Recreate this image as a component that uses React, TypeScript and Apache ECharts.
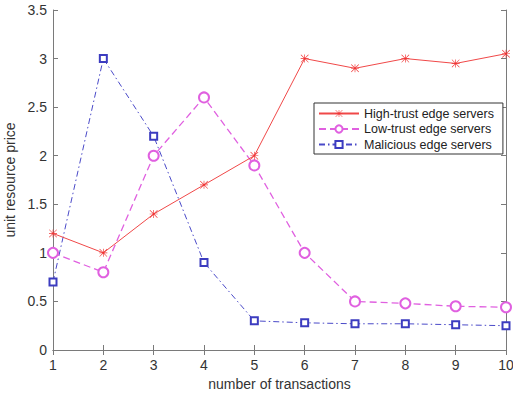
import React, { useEffect, useRef } from "react";
import * as echarts from "echarts";

const transactions = [1, 2, 3, 4, 5, 6, 7, 8, 9, 10];
const highTrust = [1.2, 1.0, 1.4, 1.7, 2.0, 3.0, 2.9, 3.0, 2.95, 3.05];
const lowTrust = [1.0, 0.8, 2.0, 2.6, 1.9, 1.0, 0.5, 0.48, 0.45, 0.44];
const malicious = [0.7, 3.0, 2.2, 0.9, 0.3, 0.28, 0.27, 0.27, 0.26, 0.25];
const seriesNames = ["High-trust edge servers", "Low-trust edge servers", "Malicious edge servers"];

const asterisk =
  "path://M0 9.2L20 9.2L20 10.8L0 10.8Z M9.2 0L10.8 0L10.8 20L9.2 20Z M1.1 0L20 18.9L18.9 20L0 1.1Z M18.9 0L20 1.1L1.1 20L0 18.9Z";

const FONT = "Liberation Sans, Arial, sans-serif";

export default function App() {
  const ref = useRef<HTMLDivElement>(null);
  useEffect(() => {
    if (!ref.current) return;
    const chart = echarts.init(ref.current, undefined, { renderer: "svg" });
    const pair = (arr: number[]) => transactions.map((x, i) => [x, arr[i]]);
    const axisLine = { show: true, lineStyle: { color: "#7a7a7a", width: 1 } };
    const tick = { show: true, inside: true, length: 5, lineStyle: { color: "#7a7a7a" } };
    chart.setOption({
      animation: false,
      backgroundColor: "#ffffff",
      textStyle: { fontFamily: FONT },
      grid: {
        left: 53,
        right: 7,
        top: 10,
        bottom: 44,
        containLabel: false,
        outerBoundsMode: "none",
      },
      legend: {
        orient: "vertical",
        left: 314,
        top: 103,
        padding: [4, 9, 3, 4],
        itemGap: 2.5,
        itemWidth: 40,
        itemHeight: 9,
        borderColor: "#333333",
        borderWidth: 1,
        borderRadius: 0,
        backgroundColor: "#ffffff",
        textStyle: { fontSize: 12.5, color: "#222222", fontFamily: FONT },
        data: seriesNames,
      },
      xAxis: [
        {
          type: "value",
          min: 1,
          max: 10,
          interval: 1,
          name: "number of transactions",
          nameLocation: "middle",
          nameGap: 26,
          nameTextStyle: { fontSize: 14, color: "#333333", fontFamily: FONT },
          axisLine,
          axisTick: tick,
          axisLabel: { fontSize: 14, color: "#333333", margin: 8, fontFamily: FONT },
          splitLine: { show: false },
        },
        {
          type: "value",
          position: "top",
          min: 1,
          max: 10,
          interval: 1,
          axisLine,
          axisTick: tick,
          axisLabel: { show: false },
          splitLine: { show: false },
        },
      ],
      yAxis: [
        {
          type: "value",
          min: 0,
          max: 3.5,
          interval: 0.5,
          name: "unit resource price",
          nameLocation: "middle",
          nameGap: 32,
          nameTextStyle: { fontSize: 14, color: "#333333", fontFamily: FONT },
          axisLine,
          axisTick: tick,
          axisLabel: { fontSize: 14, color: "#333333", margin: 6, fontFamily: FONT },
          splitLine: { show: false },
        },
        {
          type: "value",
          position: "right",
          min: 0,
          max: 3.5,
          interval: 0.5,
          axisLine,
          axisTick: tick,
          axisLabel: { show: false },
          splitLine: { show: false },
        },
      ],
      series: [
        {
          name: seriesNames[0],
          type: "line",
          data: pair(highTrust),
          symbol: asterisk,
          symbolSize: 8,
          showAllSymbol: true,
          itemStyle: { color: "#f03232", borderWidth: 0 },
          lineStyle: { color: "#f04848", width: 1 },
          z: 4,
        },
        {
          name: seriesNames[1],
          type: "line",
          data: pair(lowTrust),
          symbol: "emptyCircle",
          symbolSize: 10,
          showAllSymbol: true,
          itemStyle: { color: "#e060e0", borderWidth: 1 },
          lineStyle: { color: "#e060e0", width: 1.3, type: [7, 4] },
          z: 3,
        },
        {
          name: seriesNames[2],
          type: "line",
          data: pair(malicious),
          symbol: "emptyRect",
          symbolSize: 7,
          showAllSymbol: true,
          itemStyle: { color: "#3c3cc0", borderWidth: 1 },
          lineStyle: { color: "#4a4ac8", width: 1, type: [6, 3, 1.5, 3] },
          z: 2,
        },
      ],
    });
    return () => chart.dispose();
  }, []);
  return (
    <div
      ref={ref}
      style={{ position: "absolute", left: 0, top: 0, width: 513, height: 394 }}
    />
  );
}
